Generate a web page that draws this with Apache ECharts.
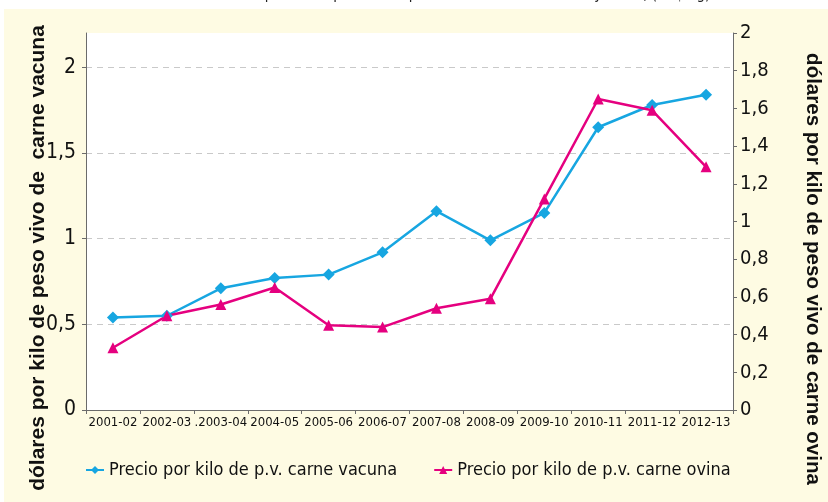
<!DOCTYPE html>
<html>
<head>
<meta charset="utf-8">
<script src="https://cdn.jsdelivr.net/npm/echarts@6/dist/echarts.min.js"></script>
<style>
    html, body { margin: 0; padding: 0; background: #fff; }
    #chart { width: 828px; height: 502px; }
</style>
</head>
<body>
<div id="chart"></div>
<script>
// datos
const categorias = ["2001-02", "2002-03", ".2003-04", "2004-05", "2005-06", "2006-07",
    "2007-08", "2008-09", "2009-10", "2010-11", "2011-12", "2012-13"]
const vacuna = [0.54, 0.55, 0.71, 0.77, 0.79, 0.92, 1.16, 0.99, 1.15, 1.65, 1.78, 1.84]
const ovina = [0.33, 0.50, 0.56, 0.65, 0.45, 0.44, 0.54, 0.59, 1.12, 1.65, 1.59, 1.29]

const nombreVacuna = "Precio por kilo de p.v. carne vacuna"
const nombreOvina = "Precio por kilo de p.v. carne ovina"

const AZUL = "#17a6e1"
const ROSA = "#e5007f"
const CREMA = "#fefbe3"
const EJE = "#6b6b6b"
const FUENTE = "'Liberation Sans Narrow', 'DejaVu Sans Condensed', sans-serif"
const NEGRITA = "'Liberation Sans', Arial, sans-serif"

const coma = (v) => String(v).replace(".", ",")

const EC = echarts.init(document.getElementById("chart"), null, {renderer: "canvas"})

let option = {
    backgroundColor: "#fff",
    animation: false,
    textStyle: {fontFamily: FUENTE},
    grid: {
        left: 86, right: 95, top: 33, bottom: 92,
        show: true,
        backgroundColor: "#fff",
        borderWidth: 0
    },
    legend: {
        left: 80, top: 456,
        itemGap: 36,
        itemWidth: 18,
        itemHeight: 10,
        textStyle: {fontFamily: FUENTE, fontSize: 18, color: "#111"},
        data: [nombreVacuna, nombreOvina]
    },
    xAxis: [{
        type: "category",
        data: categorias,
        boundaryGap: true,
        axisLine: {lineStyle: {color: EJE, width: 1}},
        axisTick: {show: true, length: 4, lineStyle: {color: EJE}},
        axisLabel: {color: "#111", fontSize: 13, margin: 6, interval: 0, fontFamily: FUENTE},
        splitLine: {show: false}
    }],
    yAxis: [
        {
            type: "value",
            position: "left",
            min: 0, max: 2.2, interval: 0.5,
            axisLine: {show: true, lineStyle: {color: EJE, width: 1}},
            axisTick: {show: true, length: 4, lineStyle: {color: EJE}},
            axisLabel: {
                color: "#111", fontSize: 21, margin: 10, fontFamily: FUENTE,
                showMaxLabel: false,
                formatter: coma
            },
            splitLine: {
                show: true,
                showMinLine: false,
                showMaxLine: false,
                lineStyle: {color: "#c9c9c9", type: [6, 5], width: 1.2}
            }
        },
        {
            type: "value",
            position: "right",
            min: 0, max: 2, interval: 0.2,
            axisLine: {show: true, lineStyle: {color: EJE, width: 1}},
            axisTick: {show: true, length: 4, lineStyle: {color: EJE}},
            axisLabel: {color: "#111", fontSize: 20, margin: 7, fontFamily: FUENTE, formatter: coma},
            splitLine: {show: false}
        }
    ],
    series: [
        {
            name: nombreVacuna,
            type: "line",
            yAxisIndex: 0,
            data: vacuna,
            symbol: "diamond",
            symbolSize: 12,
            color: AZUL,
            lineStyle: {width: 2.5, color: AZUL},
            itemStyle: {color: AZUL}
        },
        {
            name: nombreOvina,
            type: "line",
            yAxisIndex: 1,
            data: ovina,
            symbol: "triangle",
            symbolSize: 11,
            color: ROSA,
            lineStyle: {width: 2.5, color: ROSA},
            itemStyle: {color: ROSA}
        }
    ],
    graphic: [
        {
            type: "rect",
            z: -100,
            shape: {x: 4, y: 9, width: 824, height: 493},
            style: {fill: CREMA}
        },
        {
            // titulo cortado en el borde superior
            type: "text",
            x: 465, y: -5,
            style: {
                text: "Precio promedio por kilo de peso vivo de carne vacuna y ovina, (US$/kg)",
                font: "15px " + FUENTE,
                fill: "#222",
                align: "center",
                verticalAlign: "middle"
            }
        },
        {
            type: "text",
            x: 38, y: 258,
            rotation: Math.PI / 2,
            style: {
                text: "dólares por kilo de peso vivo de  carne vacuna",
                font: "bold 21px " + NEGRITA,
                fill: "#111",
                align: "center",
                verticalAlign: "middle"
            }
        },
        {
            type: "text",
            x: 813, y: 269,
            rotation: -Math.PI / 2,
            style: {
                text: "dólares por kilo de peso vivo de carne ovina",
                font: "bold 20.5px " + NEGRITA,
                fill: "#111",
                align: "center",
                verticalAlign: "middle"
            }
        }
    ]
}

EC.setOption(option)
</script>
</body>
</html>
